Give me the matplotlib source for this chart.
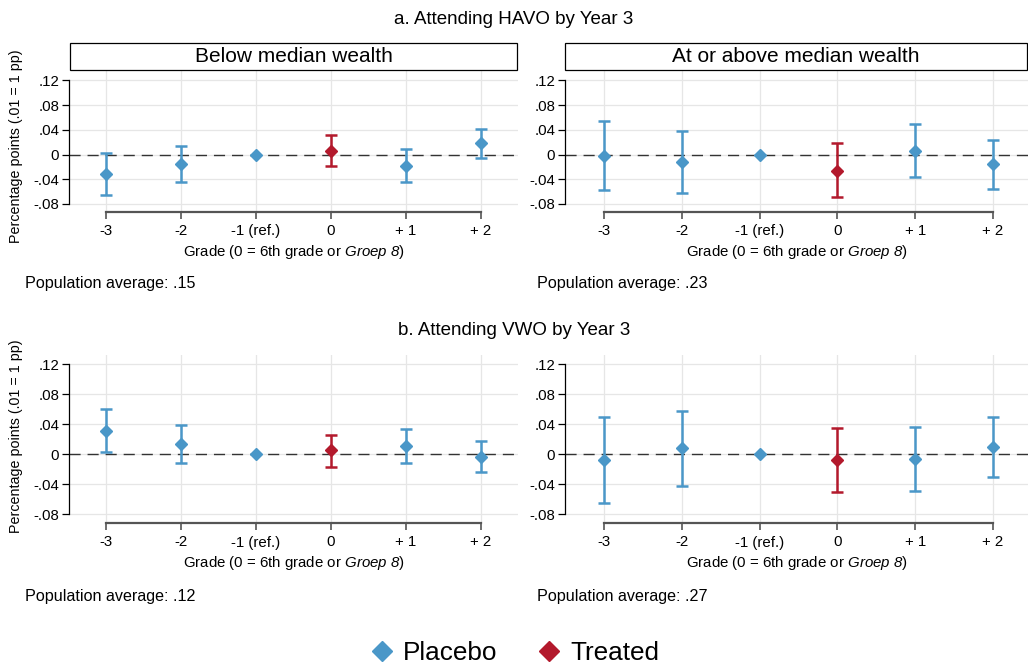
import numpy as np
import matplotlib
matplotlib.use('Agg')
import matplotlib.pyplot as plt
from matplotlib.patches import Rectangle
from matplotlib.lines import Line2D

plt.rcParams['font.family'] = ['Liberation Sans', 'DejaVu Sans']
plt.rcParams['mathtext.fontset'] = 'custom'
plt.rcParams['mathtext.rm'] = 'Liberation Sans:italic'
plt.rcParams['mathtext.it'] = 'Liberation Sans:italic'

# data
grades = ['-3', '-2', '-1 (ref.)', '0', '+ 1', '+ 2']
treated_idx = 3
ref_idx = 2

havo_below_est = [-0.031, -0.015, 0.0, 0.006, -0.018, 0.018]
havo_below_lo = [-0.065, -0.044, 0.0, -0.019, -0.044, -0.006]
havo_below_hi = [0.003, 0.014, 0.0, 0.031, 0.009, 0.042]

havo_above_est = [-0.002, -0.012, 0.0, -0.026, 0.006, -0.016]
havo_above_lo = [-0.058, -0.062, 0.0, -0.069, -0.036, -0.056]
havo_above_hi = [0.055, 0.039, 0.0, 0.018, 0.050, 0.024]

vwo_below_est = [0.031, 0.013, 0.0, 0.005, 0.011, -0.004]
vwo_below_lo = [0.003, -0.012, 0.0, -0.017, -0.012, -0.024]
vwo_below_hi = [0.060, 0.039, 0.0, 0.026, 0.033, 0.018]

vwo_above_est = [-0.008, 0.008, 0.0, -0.008, -0.007, 0.009]
vwo_above_lo = [-0.065, -0.042, 0.0, -0.050, -0.049, -0.030]
vwo_above_hi = [0.049, 0.058, 0.0, 0.035, 0.036, 0.050]

pop_avg = ['.15', '.23', '.12', '.27']
yticks = [-0.08, -0.04, 0, 0.04, 0.08, 0.12]
ytick_labels = ['-.08', '-.04', '0', '.04', '.08', '.12']

blue = '#4a97c8'
red = '#b3192c'
grid_c = '#e6e6e6'

W, H = 1028, 670
fig = plt.figure(figsize=(W / 100, H / 100), dpi=100)


def px_axes(x0, y0, x1, y1):
    # pixel box (top-left origin) -> axes
    return fig.add_axes([x0 / W, 1 - y1 / H, (x1 - x0) / W, (y1 - y0) / H])


def draw_panel(ax, est, lo, hi, ylim, xright, ylab_y=None):
    x = np.arange(len(grades))
    ax.set_xlim(-0.5, xright)
    ax.set_ylim(*ylim)
    for i in range(len(grades)):
        c = red if i == treated_idx else blue
        if i != ref_idx:
            ax.errorbar(x[i], est[i], yerr=[[est[i] - lo[i]], [hi[i] - est[i]]],
                        fmt='none', ecolor=c, elinewidth=1.8, capsize=4,
                        capthick=1.8, zorder=3)
        ax.plot(x[i], est[i], marker='D', color=c, markersize=6.5,
                linestyle='none', zorder=4)
    ax.axhline(0, color='#333333', lw=1.0, dashes=(8, 5), zorder=2)
    ax.set_xticks(x)
    ax.set_xticklabels(grades, fontsize=10.8)
    ax.set_yticks(yticks)
    ax.set_yticklabels(ytick_labels, fontsize=10.8)
    ax.grid(True, color=grid_c, lw=0.9, zorder=0)
    ax.set_axisbelow(True)
    for s in ['top', 'right']:
        ax.spines[s].set_visible(False)
    ax.spines['left'].set_bounds(-0.08, 0.12)
    ax.spines['left'].set_linewidth(0.9)
    ax.spines['bottom'].set_bounds(0, len(grades) - 1)
    ax.spines['bottom'].set_color('#555555')
    ax.spines['bottom'].set_linewidth(1.6)
    ax.tick_params(axis='y', length=5, width=0.9, pad=2)
    ax.tick_params(axis='x', length=5, width=1.2, color='#555555', pad=4)
    ax.set_xlabel(r'Grade (0 = 6th grade or $Groep\ 8$)', fontsize=10.8, labelpad=3)
    if ylab_y is not None:
        ax.set_ylabel('Percentage points (.01 = 1 pp)', fontsize=10.3)
        ax.yaxis.set_label_coords(-0.1025, ylab_y)


top_ylim = (-0.093, 0.137)
bot_ylim = (-0.092, 0.1325)

ax1 = px_axes(69, 70, 518, 212)
draw_panel(ax1, havo_below_est, havo_below_lo, havo_below_hi, top_ylim, 5.5, 0.465)
ax2 = px_axes(565, 70, 1028, 212)
draw_panel(ax2, havo_above_est, havo_above_lo, havo_above_hi, top_ylim, 5.45)
ax3 = px_axes(69, 355, 518, 523)
draw_panel(ax3, vwo_below_est, vwo_below_lo, vwo_below_hi, bot_ylim, 5.5, 0.518)
ax4 = px_axes(565, 355, 1028, 523)
draw_panel(ax4, vwo_above_est, vwo_above_lo, vwo_above_hi, bot_ylim, 5.45)

# strip boxes
for (x0, x1, label) in [(70, 517, 'Below median wealth'),
                        (565, 1027, 'At or above median wealth')]:
    fig.patches.append(Rectangle((x0 / W, 1 - 70 / H), (x1 - x0) / W, 27 / H,
                                 transform=fig.transFigure, fill=False,
                                 edgecolor='black', lw=0.9))
    fig.text((x0 + x1) / 2 / W, 1 - 57 / H, label, ha='center', va='center', fontsize=15)

fig.text(514 / W, 1 - 19 / H, 'a. Attending HAVO by Year 3', ha='center', va='center', fontsize=13.5)
fig.text(514 / W, 1 - 331 / H, 'b. Attending VWO by Year 3', ha='center', va='center', fontsize=13.5)

for (xp, yp, v) in [(25, 284, pop_avg[0]), (537, 284, pop_avg[1]),
                    (25, 596, pop_avg[2]), (537, 596, pop_avg[3])]:
    fig.text(xp / W, 1 - yp / H, 'Population average: ' + v, ha='left', va='center', fontsize=11.6)

handles = [Line2D([], [], marker='D', color=blue, linestyle='none', markersize=10),
           Line2D([], [], marker='D', color=red, linestyle='none', markersize=10)]
fig.legend(handles, ['Placebo', 'Treated'], loc='center', bbox_to_anchor=(0.5, 1 - 653 / H),
           ncol=2, frameon=False, fontsize=18.8, handletextpad=0.3, columnspacing=1.5,
           handlelength=1.0)

fig.savefig('out.png', dpi=100)
